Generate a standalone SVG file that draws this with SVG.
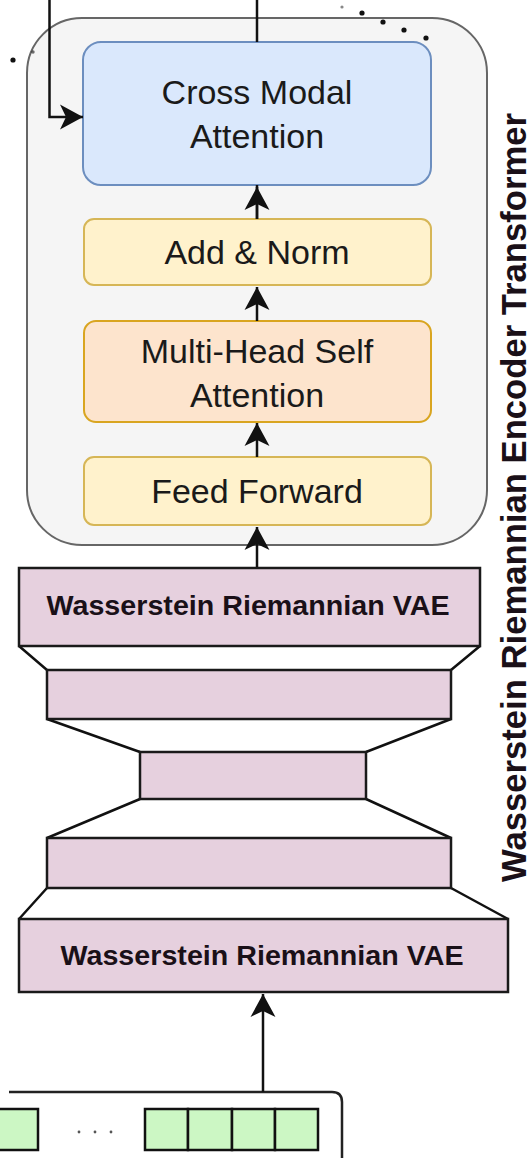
<svg xmlns="http://www.w3.org/2000/svg" width="531" height="1158" viewBox="0 0 531 1158">
<style>
.lbl{font-family:"Liberation Sans",Arial,Helvetica,sans-serif;font-size:34px;fill:#1a1a1a;text-anchor:middle}
.bold{font-family:"Liberation Sans",Arial,Helvetica,sans-serif;font-weight:bold;font-size:27px;fill:#1a1018;text-anchor:middle}
.vae{fill:#e6d0de;stroke:#1a1a1a;stroke-width:2.5}
.yel{fill:#fff2cc;stroke:#d6b656;stroke-width:2}
.edge{fill:none;stroke:#111;stroke-width:2.5}
.cell{fill:#ccf7c4;stroke:#111;stroke-width:2.5}
.dot{fill:#111}
</style>
<defs>
<marker id="arr" viewBox="0 0 24 26" refX="23" refY="13" markerWidth="24" markerHeight="26" markerUnits="userSpaceOnUse" orient="auto">
<path d="M23,13 L0,0.5 L6,13 L0,25.5 Z" fill="#111"/>
</marker>
</defs>
<rect width="531" height="1158" fill="#ffffff"/>

<g id="container">
<rect x="27" y="18" width="460" height="527" rx="55" ry="55" fill="#f5f5f5" stroke="#666666" stroke-width="2"/>
</g>

<g id="dotted-link">
<circle class="dot" cx="342" cy="7" r="1.6" opacity="0.5"/>
<circle class="dot" cx="362" cy="13" r="2.6"/>
<circle class="dot" cx="383" cy="22" r="2.6"/>
<circle class="dot" cx="404" cy="30" r="2.6"/>
<circle class="dot" cx="426" cy="38" r="2.6"/>
<circle class="dot" cx="13" cy="60" r="2.6"/>
<circle class="dot" cx="33" cy="52" r="1.7" opacity="0.6"/>
</g>

<g id="cross-modal">
<rect x="83" y="42" width="348" height="143" rx="18" ry="18" fill="#dae8fc" stroke="#6c8ebf" stroke-width="2"/>
<text class="lbl" x="257" y="104">Cross Modal</text>
<text class="lbl" x="257" y="148">Attention</text>
</g>

<g id="add-norm">
<rect class="yel" x="84" y="219" width="347" height="66" rx="10" ry="10"/>
<text class="lbl" x="257" y="264">Add &amp; Norm</text>
</g>

<g id="mhsa">
<rect x="84" y="321" width="347" height="101" rx="12" ry="12" fill="#fde4cd" stroke="#d9a520" stroke-width="2"/>
<text class="lbl" x="257" y="363">Multi-Head Self</text>
<text class="lbl" x="257" y="407">Attention</text>
</g>

<g id="feed-forward">
<rect class="yel" x="84" y="457" width="347" height="68" rx="10" ry="10"/>
<text class="lbl" x="257" y="503">Feed Forward</text>
</g>

<g id="vae">
<path class="edge" d="M19,646 L47,670 M480,646 L451,670"/>
<path class="edge" d="M47,719 L140,752 M451,719 L366,752"/>
<path class="edge" d="M140,799 L47,838 M366,799 L451,838"/>
<path class="edge" d="M47,888 L19,919 M451,888 L508,919"/>
<rect class="vae" x="19" y="568" width="461" height="78"/>
<text class="bold" x="248" y="615" textLength="403" lengthAdjust="spacingAndGlyphs">Wasserstein Riemannian VAE</text>
<rect class="vae" x="47" y="670" width="404" height="49"/>
<rect class="vae" x="140" y="752" width="226" height="47"/>
<rect class="vae" x="47" y="838" width="404" height="50"/>
<rect class="vae" x="19" y="919" width="489" height="73"/>
<text class="bold" x="262" y="965" textLength="403" lengthAdjust="spacingAndGlyphs">Wasserstein Riemannian VAE</text>
</g>

<g id="title">
<text class="bold" x="526" y="497.5" textLength="769" lengthAdjust="spacingAndGlyphs" transform="rotate(-90 526 497.5)" style="font-size:35px">Wasserstein Riemannian Encoder Transformer</text>
</g>

<g id="input">
<path d="M9,1092 L332,1092 Q342,1092 342,1102 L342,1160" fill="none" stroke="#222" stroke-width="2.5"/>
<rect class="cell" x="-5" y="1109" width="43" height="41"/>
<circle cx="79" cy="1132" r="1.4" fill="#555"/>
<circle cx="95" cy="1132" r="1.4" fill="#555"/>
<circle cx="111" cy="1132" r="1.4" fill="#555"/>
<rect class="cell" x="145" y="1109" width="43" height="41"/>
<rect class="cell" x="188" y="1109" width="44" height="41"/>
<rect class="cell" x="232" y="1109" width="43" height="41"/>
<rect class="cell" x="275" y="1109" width="43" height="41"/>
</g>

<g id="connectors">
<path class="edge" d="M49.5,0 L49.5,117 L83,117" marker-end="url(#arr)"/>
<path class="edge" d="M257,0 L257,42"/>
<path class="edge" d="M257,185 L257,219"/>
<path class="edge" d="M257,219 L257,187" marker-end="url(#arr)"/>
<path class="edge" d="M257,321 L257,287" marker-end="url(#arr)"/>
<path class="edge" d="M257,457 L257,423" marker-end="url(#arr)"/>
<path class="edge" d="M257,567 L257,527" marker-end="url(#arr)"/>
<path class="edge" d="M263,1092 L263,994" marker-end="url(#arr)"/>
</g>
</svg>
